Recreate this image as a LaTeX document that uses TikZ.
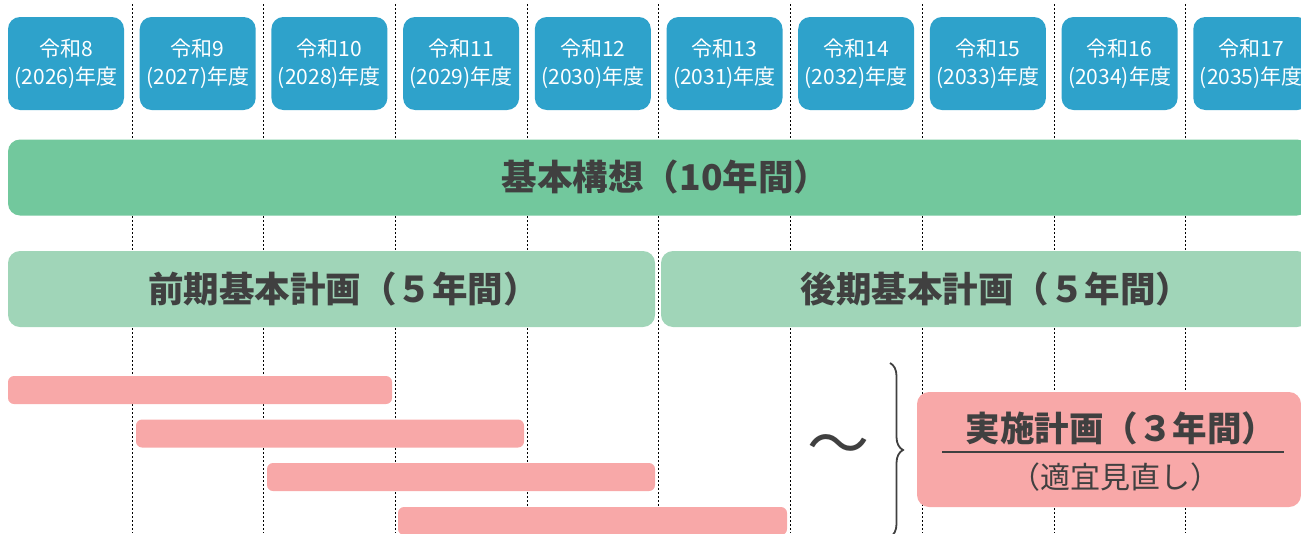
\documentclass[tikz,border=0pt]{standalone}
\usepackage{fontspec}
\setmainfont{Noto Sans CJK JP}
\usepackage{tikz}
\usetikzlibrary{positioning,shapes,decorations.pathreplacing}
\definecolor{yearblue}{RGB}{46,162,203}
\definecolor{longgreen}{RGB}{114,200,157}
\definecolor{halfgreen}{RGB}{160,213,184}
\definecolor{planpink}{RGB}{248,168,168}
\definecolor{inkgray}{RGB}{64,64,64}

\begin{document}
\begin{tikzpicture}[x=1pt,y=-1pt,node distance=131.7pt,on grid,
    yearbox/.style={rectangle,rounded corners=12pt,fill=yearblue,text=white,
        minimum width=116pt,minimum height=93pt,inner sep=0pt,align=center,
        font=\fontsize{21}{28}\selectfont},
    planbar/.style={rectangle,rounded corners=12pt,inner sep=0pt,text=inkgray,
        minimum height=76pt,font=\fontsize{35.5}{40}\selectfont\bfseries},
    impbar/.style={rectangle,rounded corners=6pt,fill=planpink,inner sep=0pt,
        minimum height=28pt},
    gridline/.style={black,line width=0.8pt,dash pattern=on 2pt off 2pt}]
    \useasboundingbox (0,0) rectangle (1301,533);
    \clip (0,0) rectangle (1301,533);
    \draw[gridline]
        (132,4) -- (132,533)
        (263.7,4) -- (263.7,533)
        (395.4,4) -- (395.4,533)
        (527.1,4) -- (527.1,533)
        (658.8,4) -- (658.8,533)
        (790.5,4) -- (790.5,533)
        (922.2,4) -- (922.2,533)
        (1053.9,4) -- (1053.9,533)
        (1185.6,4) -- (1185.6,533);
    \node[yearbox] (y8) at (66,63.5) {令和8\\(2026)年度};
    \node[yearbox] (y9) [right of=y8] {令和9\\(2027)年度};
    \node[yearbox] (y10) [right of=y9] {令和10\\(2028)年度};
    \node[yearbox] (y11) [right of=y10] {令和11\\(2029)年度};
    \node[yearbox] (y12) [right of=y11] {令和12\\(2030)年度};
    \node[yearbox] (y13) [right of=y12] {令和13\\(2031)年度};
    \node[yearbox] (y14) [right of=y13] {令和14\\(2032)年度};
    \node[yearbox] (y15) [right of=y14] {令和15\\(2033)年度};
    \node[yearbox] (y16) [right of=y15] {令和16\\(2034)年度};
    \node[yearbox] (y17) [right of=y16] {令和17\\(2035)年度};
    \node[planbar,fill=longgreen,minimum width=1301pt] (kihon) at (658.5,177.5) {\hspace{14pt}基本構想（10年間）};
    \node[planbar,fill=halfgreen,minimum width=647pt] (zenki) at (331.5,289) {\hspace{24pt}前期基本計画（５年間）};
    \node[planbar,fill=halfgreen,minimum width=648pt] (kouki) at (985,289) {\hspace{22pt}後期基本計画（５年間）};
    \node[impbar,minimum width=384pt] (imp1) at (200,390) {};
    \node[impbar,minimum width=388pt] (imp2) at (330,433.5) {};
    \node[impbar,minimum width=388pt] (imp3) at (461,477) {};
    \node[impbar,minimum width=389pt] (imp4) at (592.5,521) {};
    \node[text=inkgray,font=\fontsize{62}{62}\selectfont] (tilde) at (838,451) {～};
    \draw[inkgray,line width=1.8pt,decorate,decoration={brace,amplitude=13pt}]
        (890,363) -- (890,537);
    \node[rectangle,rounded corners=12pt,fill=planpink,minimum width=384pt,
        minimum height=115pt] (jisshi) at (1109,449.5) {};
    \node[text=inkgray,font=\fontsize{34.5}{36}\selectfont\bfseries] (jtitle) at (1121,428) {実施計画（３年間）};
    \node[text=inkgray,font=\fontsize{30}{30}\selectfont] (jnote) at (1115,477) {（適宜見直し）};
    \draw[inkgray,line width=1.5pt] (942,452) -- (1284,452);
\end{tikzpicture}
\end{document}
